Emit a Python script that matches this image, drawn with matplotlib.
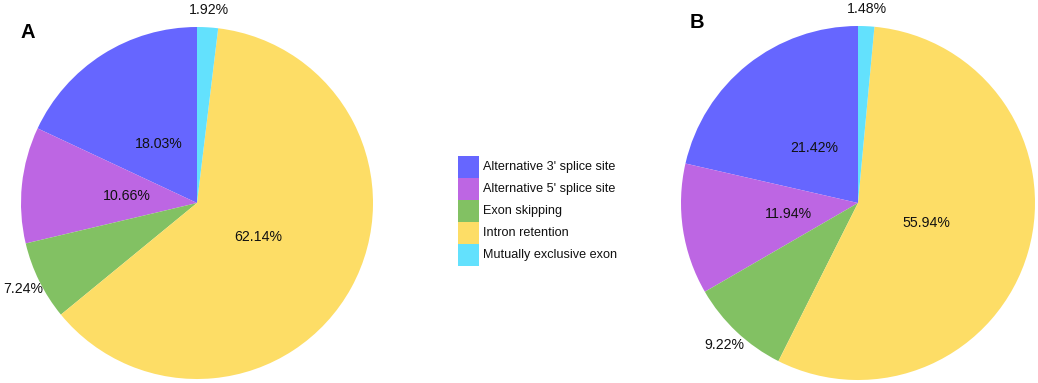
import matplotlib
matplotlib.use("Agg")
import matplotlib.pyplot as plt
from matplotlib.patches import Rectangle
import numpy as np

plt.rcParams['font.family'] = ['Liberation Sans', 'DejaVu Sans']

categories = ["Alternative 3' splice site", "Alternative 5' splice site",
              "Exon skipping", "Intron retention", "Mutually exclusive exon"]
values_a = [18.03, 10.66, 7.24, 62.14, 1.92]
values_b = [21.42, 11.94, 9.22, 55.94, 1.48]
colors = ["#6666FF", "#BD66E3", "#82C163", "#FDDD66", "#63E1FD"]
panel_labels = ["A", "B"]

W, H = 1038, 383
fig = plt.figure(figsize=(W / 100, H / 100), dpi=100)

def add_pie(cx, cy, r, values, letter, lx, ly):
    ax = fig.add_axes([(cx - r) / W, (H - cy - r) / H, 2 * r / W, 2 * r / H])
    wedges, _ = ax.pie(values, colors=colors, startangle=90, counterclock=True,
                       radius=1, wedgeprops=dict(linewidth=0))
    ax.set_xlim(-1, 1)
    ax.set_ylim(-1, 1)
    ax.set_aspect('equal')
    ax.axis('off')
    for w, v in zip(wedges, values):
        th = np.deg2rad((w.theta1 + w.theta2) / 2)
        d = 0.4 if v >= 10 else 1.1
        ax.text(d * np.cos(th), d * np.sin(th), f"{v:.2f}%", ha='center',
                va='center', fontsize=10.2, color='#111111')
    fig.text(lx / W, 1 - ly / H, letter, fontsize=14.5, fontweight='bold',
             ha='center', va='center')

add_pie(197, 203, 176, values_a, panel_labels[0], 28, 33)
add_pie(858, 203, 177, values_b, panel_labels[1], 697, 23)

# legend
x0, y0, bw, bh = 458, 156, 21, 22
for i, (c, lab) in enumerate(zip(colors, categories)):
    top = y0 + bh * i
    fig.patches.append(Rectangle((x0 / W, 1 - (top + bh) / H), bw / W, bh / H,
                                 transform=fig.transFigure, facecolor=c,
                                 edgecolor='none'))
    fig.text(483 / W, 1 - (top + bh / 2) / H, lab, fontsize=9.1,
             ha='left', va='center', color='#111111')

fig.savefig("out.png", dpi=100)
